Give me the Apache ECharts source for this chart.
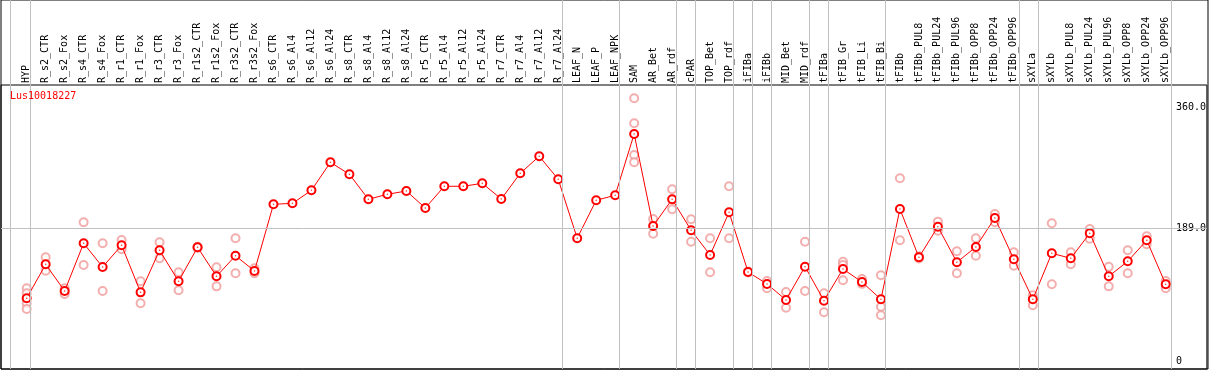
<!DOCTYPE html>
<html>
<head>
<meta charset="utf-8">
<script src="https://cdn.jsdelivr.net/npm/echarts@6/dist/echarts.min.js"></script>
<style>
html,body{margin:0;padding:0;background:#fff;}
#chart{width:1209px;height:370px;}
</style>
</head>
<body>
<div id="chart"></div>
<script>
const chartTitle = 'Lus10018227';
const categories = ['HYP','R_s2_CTR','R_s2_Fox','R_s4_CTR','R_s4_Fox','R_r1_CTR','R_r1_Fox','R_r3_CTR','R_r3_Fox','R_r1s2_CTR','R_r1s2_Fox','R_r3s2_CTR','R_r3s2_Fox','R_s6_CTR','R_s6_Al4','R_s6_Al12','R_s6_Al24','R_s8_CTR','R_s8_Al4','R_s8_Al12','R_s8_Al24','R_r5_CTR','R_r5_Al4','R_r5_Al12','R_r5_Al24','R_r7_CTR','R_r7_Al4','R_r7_Al12','R_r7_Al24','LEAF_N','LEAF_P','LEAF_NPK','SAM','AR_Bet','AR_rdf','cPAR','TOP_Bet','TOP_rdf','iFIBa','iFIBb','MID_Bet','MID_rdf','tFIBa','tFIB_Gr','tFIB_Li','tFIB_Bi','tFIBb','tFIBb_PUL8','tFIBb_PUL24','tFIBb_PUL96','tFIBb_OPP8','tFIBb_OPP24','tFIBb_OPP96','sXYLa','sXYLb','sXYLb_PUL8','sXYLb_PUL24','sXYLb_PUL96','sXYLb_OPP8','sXYLb_OPP24','sXYLb_OPP96'];
const meanValues = [89.6,137.6,99.9,167.3,133.8,164.5,98,157.4,113.6,161.7,120.7,149.8,128.2,222.4,223.8,242.2,281.8,264.8,229.5,236.6,241.2,217.2,247.9,247.9,252.1,229.9,266.2,290.3,257.8,174.4,228.1,235.2,321.8,191.8,229.5,185.7,150.8,211.1,126.8,109.8,87.2,134.3,86.2,131,112.6,88.2,215.8,147.5,190.8,140.5,162.1,203.1,144.7,88.2,153.2,146.1,181.5,120.7,141.9,171.6,109.4];
const replicateValues = [
  [103.7,96.7,82.5,74.4],[147.5,128.6],[103.7,95.7],[197,136.7],[167.3,99.9],[172,158.8],[113.6,82.5],[168.7,146.1],[126.3,100.9],[162.5,160.9],[133.4,106.5],[174.4,124.9],[132,125],
  [],[],[],[],[],[],[],[],[],[],[],[],[],[],[],[],[],[],[],
  [372.2,336.9,292.1,281.8],[201.7,180.9],[243.6,215.4],[201.2,169.6],[174.4,126.3],[247.9,174.4],[127.5,126],[114,103.7],[98.5,76.3],[169.6,99.9],[96.7,69.8],[141.3,136.7,115],[116.8,110],[122.1,77.7,65.6],
  [259.2,171.6],[149,146],[197.9,185.1],[156,124.9],[174.4,149.8],[208.7,197],[154.6,135.7],[93.8,79.7],[195.6,109.4],[154.6,137.6],[187.5,173.8],[134.3,106.5],[157.4,124.9],[177.2,165.9],[114,103.7]
];
const separatorPositions = [-0.84,0.21,28.21,31.21,34.21,35.21,37.21,38.21,39.21,41.21,42.21,45.21,52.21,53.21,60.21];
const yTickValues = [0,189,360];
const refLineValue = 189;

const FONT = 'DejaVu Sans Mono';
const X_MIN = -1.353, X_MAX = 62.17;
const Y_MIN = -10.3, Y_MAX = 391;

const meanData = meanValues.map((v, i) => [i, v]);
const repData = [];
replicateValues.forEach((arr, i) => arr.forEach(v => repData.push([i, v])));

const chart = echarts.init(document.getElementById('chart'), null, {renderer: 'canvas'});
chart.setOption({
  animation: false,
  backgroundColor: '#fff',
  title: {
    text: chartTitle, left: 10, top: 91, padding: 0,
    textStyle: {color: '#ff0000', fontSize: 10, fontFamily: FONT, fontWeight: 'normal'}
  },
  grid: [
    {left: 1, right: 1, top: 85, bottom: 1, show: true, borderColor: '#000', borderWidth: 1, backgroundColor: 'transparent'},
    {left: 1, right: 1, top: 0, bottom: 1, show: true, borderColor: '#000', borderWidth: 1, backgroundColor: 'transparent'}
  ],
  xAxis: [
    {
      type: 'value', gridIndex: 0, min: X_MIN, max: X_MAX, position: 'top',
      axisLine: {show: false}, axisTick: {show: false}, splitLine: {show: false},
      axisLabel: {
        customValues: categories.map((_, i) => i),
        formatter: v => categories[Math.round(v)] || '',
        rotate: 90, margin: 2, fontFamily: FONT, fontSize: 10, color: '#000'
      }
    },
    {
      type: 'value', gridIndex: 1, min: X_MIN, max: X_MAX, show: false
    }
  ],
  yAxis: [
    {
      type: 'value', gridIndex: 0, min: Y_MIN, max: Y_MAX, position: 'right',
      axisLine: {show: false}, axisTick: {show: false}, splitLine: {show: false},
      axisLabel: {
        inside: true, customValues: yTickValues, align: 'left', margin: 31,
        formatter: v => (v === 0 ? '0' : v.toFixed(1)),
        fontFamily: FONT, fontSize: 10, color: '#000'
      }
    },
    {type: 'value', gridIndex: 1, min: 0, max: 1, show: false}
  ],
  series: [
    {
      type: 'line', xAxisIndex: 1, yAxisIndex: 1, data: [], z: 1, silent: true,
      markLine: {
        silent: true, symbol: 'none', label: {show: false},
        lineStyle: {color: '#c0c0c0', width: 1, type: 'solid'},
        data: separatorPositions.map(p => ({xAxis: p}))
      }
    },
    {
      type: 'line', xAxisIndex: 0, yAxisIndex: 0, data: [], z: 1, silent: true,
      markLine: {
        silent: true, symbol: 'none', label: {show: false},
        lineStyle: {color: '#c0c0c0', width: 1, type: 'solid'},
        data: [{yAxis: refLineValue}]
      }
    },
    {
      name: 'replicates', type: 'scatter', xAxisIndex: 0, yAxisIndex: 0, z: 3,
      symbol: 'emptyCircle', symbolSize: 8,
      itemStyle: {color: '#f09a9a', borderColor: '#f09a9a', borderWidth: 1.5},
      data: repData
    },
    {
      name: 'mean', type: 'line', xAxisIndex: 0, yAxisIndex: 0, z: 4,
      symbol: 'emptyCircle', symbolSize: 8, showAllSymbol: true,
      lineStyle: {color: '#ff0000', width: 1},
      itemStyle: {color: '#ff0000', borderColor: '#ff0000', borderWidth: 1.6},
      data: meanData
    },
    {
      name: 'meanDot', type: 'scatter', xAxisIndex: 0, yAxisIndex: 0, z: 5,
      symbol: 'circle', symbolSize: 1.5,
      itemStyle: {color: '#ff0000'},
      data: meanData
    }
  ]
});
</script>
</body>
</html>
